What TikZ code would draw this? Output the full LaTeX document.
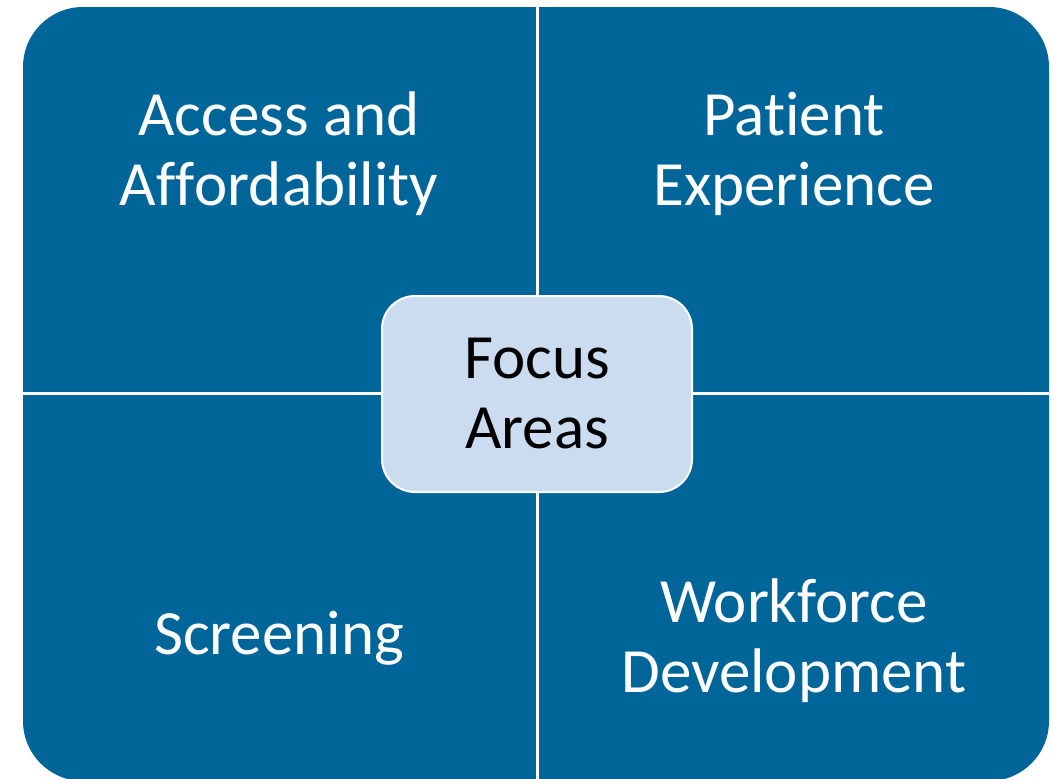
\documentclass[tikz,border=0pt]{standalone}
\usepackage{fontspec}
\setmainfont{Carlito}[Ligatures={NoCommon,NoContextual,NoRequired}]
\definecolor{qblue}{RGB}{0,101,153}
\definecolor{fblue}{RGB}{204,220,240}
\begin{document}
\begin{tikzpicture}[x=1pt,y=-1pt,
  qtext/.style={text=white,align=center,inner sep=0pt,font=\fontsize{63}{70}\selectfont},
  focusbox/.style={fill=fblue,draw=white,line width=2pt,rounded corners=33pt,
    minimum width=310pt,minimum height=196pt,text=black,align=center,
    font=\fontsize{63}{70}\selectfont},
  divider/.style={white,line width=3pt}]
\useasboundingbox (0,0) rectangle (1053,779);
\clip (0,0) rectangle (1053,779);
\fill[qblue,rounded corners=60pt] (23,7) rectangle (1049,781);
\coordinate (vt) at (537,7);
\coordinate (vb) at (537,781);
\coordinate (hl) at (23,393);
\coordinate (hr) at (1049,393);
\draw[divider] (vt) -- (vb);
\draw[divider] (hl) -- (hr);
\node[qtext] (access) at (279,154) {Access and\\Af\kern0ptf\kern0ptordability};
\node[qtext] (patient) at (794,154) {Pat\kern0ptient\\Experience};
\node[qtext] (screen) at (279,638) {Screening};
\node[qtext] (work) at (794,641) {Workforce\\Development};
\node[focusbox] (focus) at (537,394) {Focus\\Areas};
\end{tikzpicture}
\end{document}
